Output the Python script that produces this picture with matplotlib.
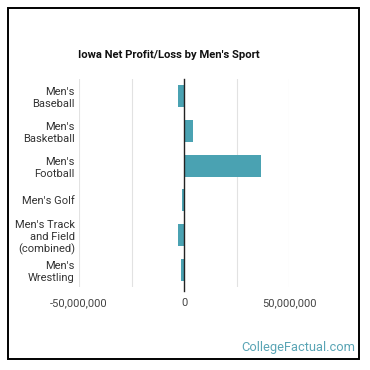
import matplotlib.pyplot as plt
from matplotlib.patches import Rectangle
from matplotlib.ticker import FuncFormatter

plt.rcParams['font.family'] = ['Roboto', 'DejaVu Sans']

# data
sports = ["Men's\nBaseball", "Men's\nBasketball", "Men's\nFootball",
          "Men's Golf", "Men's Track\nand Field\n(combined)", "Men's\nWrestling"]
profit = [-2800000, 4300000, 36700000, -1000000, -2800000, -1400000]
xticks = [-50000000, 0, 50000000]

bar_color = '#4aa2b2'

fig = plt.figure(figsize=(3.7, 3.7), dpi=100)
ax = fig.add_axes([79/370, 1 - 287/370, 210/370, 208/370])

ypos = list(range(len(sports)))
ax.barh(ypos, profit, height=0.63, color=bar_color, zorder=3)
ax.set_ylim(len(sports) - 0.5, -0.5)
ax.set_xlim(-50000000, 50000000)

# gridlines
for g in [-50000000, -25000000, 25000000, 50000000]:
    ax.axvline(g, color='#e2e2e2', lw=0.8, zorder=1)
ax.axvline(0, ymin=-0.02, ymax=1, color='#222222', lw=1.0, zorder=4, clip_on=False)

ax.set_yticks(ypos)
ax.set_yticklabels(sports, fontsize=8, color='#333333', linespacing=1.25)
ax.set_xticks(xticks)
ax.xaxis.set_major_formatter(FuncFormatter(lambda v, p: '{:,.0f}'.format(v)))
ax.tick_params(axis='x', length=0, pad=8, labelsize=8, labelcolor='#444444')
ax.tick_params(axis='y', length=0, pad=3)
for s in ax.spines.values():
    s.set_visible(False)

fig.text(169/370, 1 - 55/370, "Iowa Net Profit/Loss by Men's Sport",
         ha='center', va='center', fontsize=8.1, fontweight='bold', color='#111111')
fig.text(355/370, 1 - 348/370, "CollegeFactual.com", ha='right', va='center',
         fontsize=9.3, color='#5aa5b5')

fig.add_artist(Rectangle((8/370, 1 - 359/370), 351/370, 351/370,
                         transform=fig.transFigure, fill=False,
                         edgecolor='black', lw=1.4))

fig.savefig('out.png', dpi=100)
